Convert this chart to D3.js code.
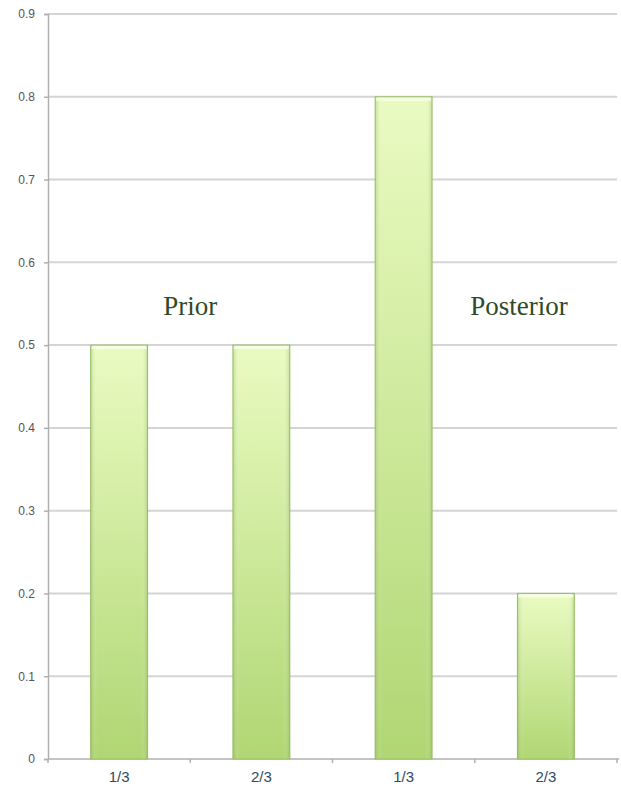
<!DOCTYPE html>
<html><head><meta charset="utf-8">
<script src="https://cdn.jsdelivr.net/npm/d3@7"></script>
<style>body{margin:0;background:#fff}svg{display:block}</style>
</head><body><div id="chart"></div>
<script>
const categories = ["1/3", "2/3", "1/3", "2/3"];
const values = [0.5, 0.5, 0.8, 0.2];
const yTicks = [0, 0.1, 0.2, 0.3, 0.4, 0.5, 0.6, 0.7, 0.8, 0.9];
const groupLabels = ["Prior", "Posterior"];

const W = 621, H = 788;
const m = {left: 48, right: 4, top: 14, bottom: 29};
const svg = d3.select("#chart").append("svg").attr("width", W).attr("height", H);

const defs = svg.append("defs");
const grad = defs.append("linearGradient").attr("id", "barGrad")
  .attr("x1", 0).attr("y1", 0).attr("x2", 0).attr("y2", 1);
grad.append("stop").attr("offset", "0%").attr("stop-color", "#eafbc2");
grad.append("stop").attr("offset", "100%").attr("stop-color", "#b0d673");
const hgrad = defs.append("linearGradient").attr("id", "barH")
  .attr("x1", 0).attr("y1", 0).attr("x2", 1).attr("y2", 0);
hgrad.append("stop").attr("offset", "0%").attr("stop-color", "#7fa84a").attr("stop-opacity", 0.35);
hgrad.append("stop").attr("offset", "12%").attr("stop-color", "#ffffff").attr("stop-opacity", 0);
hgrad.append("stop").attr("offset", "88%").attr("stop-color", "#ffffff").attr("stop-opacity", 0);
hgrad.append("stop").attr("offset", "100%").attr("stop-color", "#7fa84a").attr("stop-opacity", 0.35);

const x = d3.scaleBand().domain(d3.range(categories.length))
  .range([m.left, W - m.right]).paddingInner(0.6).paddingOuter(0.3);
const y = d3.scaleLinear().domain([0, 0.9]).range([H - m.bottom, m.top]);

// gridlines
svg.append("g").selectAll("line").data(yTicks.slice(1)).join("line")
  .attr("x1", m.left).attr("x2", W - m.right)
  .attr("y1", d => y(d)).attr("y2", d => y(d))
  .attr("stroke", "#d4d4d4").attr("stroke-width", 2);

// y axis
const yAxis = svg.append("g").attr("transform", `translate(${m.left},0)`)
  .call(d3.axisLeft(y).tickValues(yTicks).tickSize(4).tickPadding(9)
    .tickFormat(d => d === 0 ? "0" : d3.format(".1f")(d)));
yAxis.select(".domain").attr("stroke", "#b0b0b0").attr("stroke-width", 1.5);
yAxis.selectAll(".tick line").attr("stroke", "#b0b0b0").attr("stroke-width", 1.5);
yAxis.selectAll("text").attr("fill", "#555").style("font-family", "Liberation Sans, Arial, sans-serif").style("font-size", "12px");

// x axis
const xAxis = svg.append("g").attr("transform", `translate(0,${H - m.bottom})`);
xAxis.append("line").attr("x1", m.left).attr("x2", W - m.right + 2)
  .attr("stroke", "#b0b0b0").attr("stroke-width", 1.5);
const step = x.step();
xAxis.selectAll(".bt").data(d3.range(categories.length + 1)).join("line").attr("class", "bt")
  .attr("x1", i => x(0) - x.paddingOuter() * step + i * step)
  .attr("x2", i => x(0) - x.paddingOuter() * step + i * step)
  .attr("y1", 0).attr("y2", 4).attr("stroke", "#b0b0b0").attr("stroke-width", 1.5);
xAxis.selectAll("text").data(categories).join("text")
  .attr("x", (d, i) => x(i) + x.bandwidth() / 2).attr("y", 23)
  .attr("text-anchor", "middle").attr("fill", "#2b4a68")
  .style("font-family", "Liberation Sans, Arial, sans-serif").style("font-size", "15px")
  .text(d => d);

// bars
const bars = svg.append("g");
bars.selectAll("rect.b").data(values).join("rect").attr("class", "b")
  .attr("x", (d, i) => x(i)).attr("width", x.bandwidth())
  .attr("y", d => y(d)).attr("height", d => y(0) - y(d))
  .attr("fill", "url(#barGrad)").attr("stroke", "#98bf65").attr("stroke-width", 1);
bars.selectAll("rect.h").data(values).join("rect").attr("class", "h")
  .attr("x", (d, i) => x(i)).attr("width", x.bandwidth())
  .attr("y", d => y(d)).attr("height", d => y(0) - y(d))
  .attr("fill", "url(#barH)");
bars.selectAll("rect.t").data(values).join("rect").attr("class", "t")
  .attr("x", (d, i) => x(i) + 1).attr("width", x.bandwidth() - 2)
  .attr("y", d => y(d) + 1).attr("height", 3)
  .attr("fill", "#f8ffe6").attr("opacity", 0.9);

// group labels
const labelX = [
  (x(0) + x(1) + x.bandwidth()) / 2,
  x(3) + x.bandwidth() / 2 - 27
];
svg.selectAll("text.g").data(groupLabels).join("text").attr("class", "g")
  .attr("x", (d, i) => labelX[i])
  .attr("y", y(0.5) - 30)
  .attr("text-anchor", "middle").attr("fill", "#2e4a28")
  .style("font-family", "Liberation Serif, Times New Roman, serif").style("font-size", "27px")
  .text(d => d);
</script></body></html>
